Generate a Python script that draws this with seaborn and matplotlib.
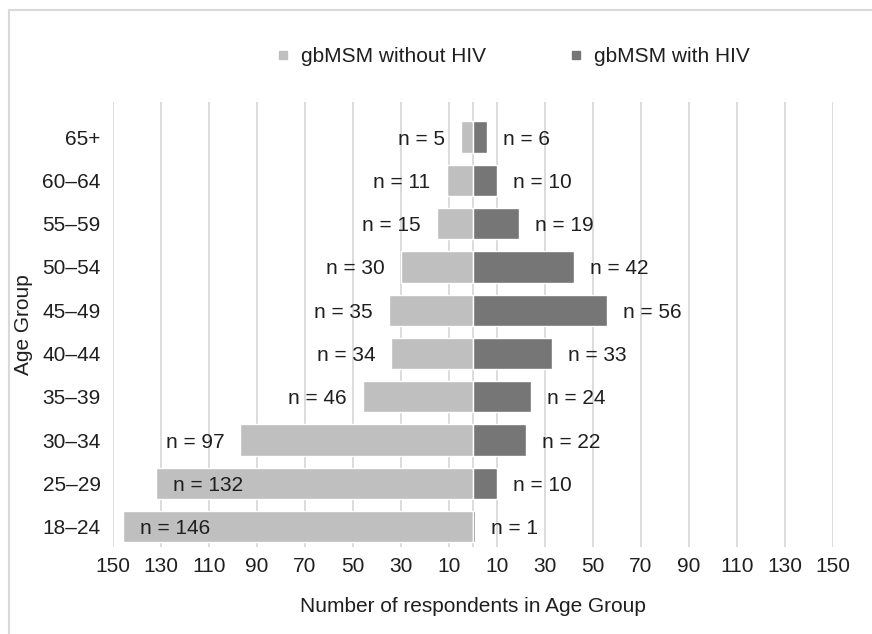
import matplotlib
matplotlib.use("Agg")
import matplotlib.pyplot as plt
from matplotlib.lines import Line2D
from matplotlib.patches import Rectangle
import seaborn as sns
import pandas as pd

# ---- data ----
age_groups = ["65+", "60–64", "55–59", "50–54", "45–49", "40–44", "35–39", "30–34", "25–29", "18–24"]
without_hiv = [5, 11, 15, 30, 35, 34, 46, 97, 132, 146]
with_hiv = [6, 10, 19, 42, 56, 33, 24, 22, 10, 1]
tick_values = [-150, -130, -110, -90, -70, -50, -30, -10, 10, 30, 50, 70, 90, 110, 130, 150]
series_names = ["gbMSM without HIV", "gbMSM with HIV"]

LIGHT = "#bfbfbf"
DARK = "#767676"
GRID = "#d9d9d9"
TEXT = "#1f1f1f"
FS = 15

sns.set_theme(style="white")
plt.rcParams["font.family"] = ["Liberation Sans", "DejaVu Sans"]
plt.rcParams["text.color"] = TEXT
plt.rcParams["axes.labelcolor"] = TEXT
plt.rcParams["xtick.color"] = TEXT
plt.rcParams["ytick.color"] = TEXT

df = pd.DataFrame({"age": age_groups,
                   "without": [-v for v in without_hiv],
                   "with": with_hiv})

fig = plt.figure(figsize=(8.72, 6.34), dpi=100)
ax = fig.add_axes([113 / 872, 1 - 547 / 634, 720 / 872, 445 / 634])

sns.barplot(data=df, x="without", y="age", order=age_groups, orient="h",
            color=LIGHT, saturation=1, width=0.72, ax=ax, zorder=3)
sns.barplot(data=df, x="with", y="age", order=age_groups, orient="h",
            color=DARK, saturation=1, width=0.72, ax=ax, zorder=3)

ax.set_xlim(-150, 150)
ax.set_ylim(9.47, -0.81)
ax.set_xticks(tick_values)
ax.set_xticklabels([str(abs(t)) for t in tick_values], fontsize=FS)
ax.tick_params(axis="both", length=0, labelsize=FS)
ax.tick_params(axis="x", pad=7)
ax.tick_params(axis="y", pad=9)
ax.grid(axis="x", color=GRID, linewidth=1.3, zorder=0)
ax.grid(axis="y", visible=False)
ax.axvline(0, color=GRID, linewidth=1.3, zorder=0)
ax.set_axisbelow(True)
for s in ax.spines.values():
    s.set_visible(False)

# labels
for i, v in enumerate(without_hiv):
    if v > 100:
        ax.annotate(f"n = {v}", xy=(-v, i), xytext=(17, 0), textcoords="offset pixels",
                    ha="left", va="center_baseline", fontsize=FS, color=TEXT, zorder=4)
    else:
        ax.annotate(f"n = {v}", xy=(-v, i), xytext=(-16, 0), textcoords="offset pixels",
                    ha="right", va="center_baseline", fontsize=FS, color=TEXT, zorder=4)
for i, v in enumerate(with_hiv):
    ax.annotate(f"n = {v}", xy=(v, i), xytext=(16, 0), textcoords="offset pixels",
                ha="left", va="center_baseline", fontsize=FS, color=TEXT, zorder=4)

ax.set_xlabel("Number of respondents in Age Group", fontsize=FS)
ax.set_ylabel("Age Group", fontsize=FS)
ax.xaxis.set_label_coords(0.5, -0.113)
ax.yaxis.set_label_coords(-0.111, 0.5)

handles = [Line2D([], [], marker="s", linestyle="none", color=LIGHT, markersize=5.8),
           Line2D([], [], marker="s", linestyle="none", color=DARK, markersize=5.8)]
fig.legend(handles, series_names, loc="center", bbox_to_anchor=(512 / 872, 1 - 57 / 634),
           ncol=2, frameon=False, fontsize=FS, handlelength=0.8, handletextpad=0.46,
           columnspacing=3.9, borderpad=0)

# outer light frame
fig.patches.append(Rectangle((9 / 872, -0.1), 1.2, 1.1 - 10 / 634, transform=fig.transFigure,
                             fill=False, edgecolor=GRID, linewidth=1.5, zorder=0))

fig.savefig("out.png", dpi=100)
